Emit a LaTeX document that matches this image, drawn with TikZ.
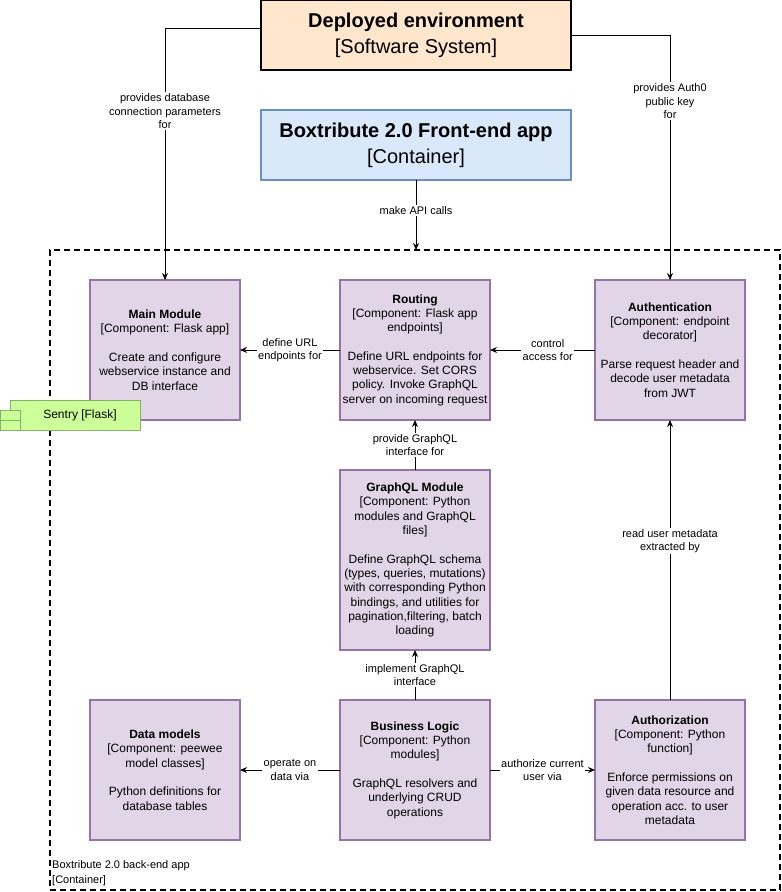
\documentclass[tikz,border=0pt]{standalone}
\usepackage{fontspec}
\setmainfont{Liberation Sans}
\usetikzlibrary{arrows.meta}
\definecolor{compfill}{HTML}{E1D5E7}
\definecolor{compdraw}{HTML}{9673A6}
\definecolor{sysfill}{HTML}{FFE6CC}
\definecolor{fefill}{HTML}{DAE8FC}
\definecolor{fedraw}{HTML}{6C8EBF}
\definecolor{sentryfill}{HTML}{CCFF99}
\definecolor{sentrydraw}{HTML}{82B366}
\begin{document}
\begin{tikzpicture}[x=1pt,y=-1pt,
  comp/.style={draw=compdraw, fill=compfill, line width=1.6pt, minimum width=150pt, minimum height=140pt, inner sep=0pt, outer sep=0pt, align=center, font=\fontsize{12}{14.3}\selectfont},
  sysbox/.style={line width=1.2pt, minimum width=310pt, minimum height=70pt, inner sep=0pt, outer sep=0pt, align=center, font=\fontsize{20}{26}\selectfont},
  conn/.style={draw=black, line width=0.9pt, -{Stealth[length=7pt,width=6pt]}},
  plainconn/.style={draw=black, line width=0.9pt},
  lbl/.style={fill=white, inner sep=1.5pt, align=center, font=\fontsize{11}{13.5}\selectfont},
  sentrybox/.style={draw=sentrydraw, fill=sentryfill, line width=0.8pt, inner sep=0pt, outer sep=0pt}]
\useasboundingbox (0,0) rectangle (782,892);

% container
\node[draw=black, line width=1.8pt, dash pattern=on 6pt off 4pt, minimum width=730pt, minimum height=640pt, inner sep=0pt, outer sep=0pt] (backend) at (415,570) {};
\node[anchor=south west, align=left, inner sep=0pt, font=\fontsize{11}{15}\selectfont] (backendlbl) at (52,886) {Boxtribute 2.0 back-end app\\{}[Container]};

% top systems
\node[sysbox, draw=black, fill=sysfill] (deployed) at (416,35) {\textbf{Deployed environment}\\{}[Software System]};
\node[sysbox, draw=fedraw, fill=fefill] (frontend) at (416,145) {\textbf{Boxtribute 2.0 Front-end app}\\{}[Container]};

% components
\node[comp] (main) at (165,350) {\textbf{Main Module}\\{}[Component: Flask app]\\[14.3pt]Create and configure\\webservice instance and\\DB interface};
\node[comp] (routing) at (415,350) {\textbf{Routing}\\{}[Component: Flask app\\endpoints]\\[14.3pt]Define URL endpoints for\\webservice. Set CORS\\policy. Invoke GraphQL\\server on incoming request};
\node[comp] (auth) at (670,350) {\textbf{Authentication}\\{}[Component: endpoint\\decorator]\\[14.3pt]Parse request header and\\decode user metadata\\from JWT};
\node[comp, minimum height=180pt] (graphql) at (415,560) {\textbf{GraphQL Module}\\{}[Component: Python\\modules and GraphQL\\files]\\[14.3pt]Define GraphQL schema\\(types, queries, mutations)\\with corresponding Python\\bindings, and utilities for\\pagination,filtering, batch\\loading};
\node[comp] (models) at (165,770) {\textbf{Data models}\\{}[Component: peewee\\model classes]\\[14.3pt]Python definitions for\\database tables};
\node[comp] (logic) at (415,770) {\textbf{Business Logic}\\{}[Component: Python\\modules]\\[14.3pt]GraphQL resolvers and\\underlying CRUD\\operations};
\node[comp] (authz) at (670,770) {\textbf{Authorization}\\{}[Component: Python\\function]\\[14.3pt]Enforce permissions on\\given data resource and\\operation acc. to user\\metadata};

% sentry
\node[sentrybox, minimum width=130pt, minimum height=30pt, font=\fontsize{12}{14}\selectfont] (sentry) at (75,415) {\hspace{10pt}Sentry [Flask]};
\node[sentrybox, minimum width=20pt, minimum height=10pt] (sentrya) at (10,415.7) {};
\node[sentrybox, minimum width=20pt, minimum height=10pt] (sentryb) at (10,425.7) {};

% connectors
\coordinate (dl) at ([yshift=7pt]deployed.west);
\coordinate (dr) at (deployed.east);
\draw[conn] (dl) -| node[lbl, pos=0.665] {provides database\\connection parameters\\for} (main.north);
\draw[conn] (dr) -| node[lbl, pos=0.635] {provides Auth0\\public key\\for} (auth.north);
\coordinate (apiend) at (frontend.south |- backend.north);
\draw[conn] (frontend.south) -- node[lbl, pos=0.44] {make API calls} (apiend);
\draw[conn] (routing.west) -- node[lbl] {define URL\\endpoints for} (main.east);
\draw[conn] (auth.west) -- node[lbl, pos=0.45] {control\\access for} (routing.east);
\draw[conn] (graphql.north) -- node[lbl] {provide GraphQL\\interface for} (routing.south);
\draw[conn] (logic.north) -- node[lbl] {implement GraphQL\\interface} (graphql.south);
\draw[conn] (logic.west) -- node[lbl] {operate on\\data via} (models.east);
\draw[conn] (logic.east) -- node[lbl, pos=0.5] {authorize current\\user via} (authz.west);
\draw[conn] (authz.north) -- node[lbl, pos=0.568] {read user metadata\\extracted by} (auth.south);
\end{tikzpicture}
\end{document}
